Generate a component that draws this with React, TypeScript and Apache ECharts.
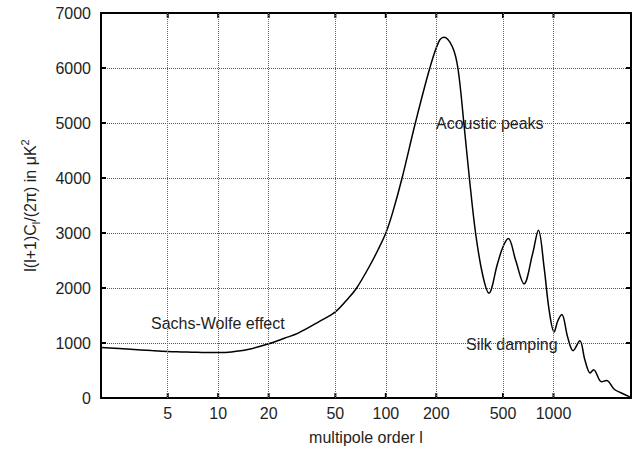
import React, { useEffect, useRef } from "react";
import * as echarts from "echarts";

// multipole order l
const multipoles = [
  2, 3, 4, 5, 6, 7, 8, 10, 12, 15, 20, 25, 30, 40, 50, 60, 67, 80, 90, 100, 110,
  125, 150, 183, 207, 222, 249, 269, 292, 315, 343, 377, 412, 463, 500, 538,
  596, 667, 750, 813, 879, 942, 1009, 1060, 1122, 1213, 1309, 1436, 1538, 1656,
  1734, 1935, 2073, 2302, 2522, 2850,
];
// l(l+1)C_l/(2pi) in microK^2
const power = [
  918, 885, 862, 846, 838, 832, 829, 828, 838, 880, 985, 1090, 1180, 1390,
  1565, 1820, 2000, 2400, 2700, 3000, 3380, 4000, 5000, 6000, 6480, 6560, 6390,
  6000, 5000, 4000, 3000, 2255, 1907, 2435, 2750, 2900, 2495, 2075, 2615, 3050,
  2375, 1596, 1200, 1400, 1520, 1116, 860, 1040, 696, 455, 515, 295, 320, 160,
  95, 20,
];
const xTickValues = [5, 10, 20, 50, 100, 200, 500, 1000];
const yTickValues = [1000, 2000, 3000, 4000, 5000, 6000];
const xMin = 2;
const xMax = 2900;
const yMin = 0;
const yMax = 7000;
const yStep = 1000;

const FONT = "'Liberation Sans', Arial, Helvetica, sans-serif";
const TEXT = "#1e1e1e";
const TICK_PX = 5;

export default function App() {
  const ref = useRef<HTMLDivElement>(null);
  useEffect(() => {
    document.body.style.margin = "0";
    if (!ref.current) return;
    const chart = echarts.init(ref.current, undefined, { renderer: "svg" });
    const axisLineStyle = { color: "#000", width: 2 };
    const labelStyle = { color: TEXT, fontSize: 16, fontFamily: FONT };

    const tickSeries = (
      data: number[][],
      dir: "up" | "down" | "right" | "left"
    ) => ({
      type: "custom",
      coordinateSystem: "cartesian2d",
      xAxisIndex: 0,
      yAxisIndex: 0,
      silent: true,
      data,
      renderItem: (_p: any, api: any) => {
        const p = api.coord([api.value(0), api.value(1)]);
        const dx = dir === "right" ? TICK_PX : dir === "left" ? -TICK_PX : 0;
        const dy = dir === "up" ? -TICK_PX : dir === "down" ? TICK_PX : 0;
        return {
          type: "line",
          shape: { x1: p[0], y1: p[1], x2: p[0] + dx, y2: p[1] + dy },
          style: { stroke: "#000", lineWidth: 2 },
        };
      },
    });

    chart.setOption({
      animation: false,
      backgroundColor: "#fff",
      grid: { left: 101, top: 13, right: 3, bottom: 48, containLabel: false },
      xAxis: [
        {
          type: "log",
          logBase: 10,
          min: xMin,
          max: xMax,
          position: "bottom",
          axisLine: { show: true, onZero: false, lineStyle: axisLineStyle },
          axisTick: { show: false },
          axisLabel: {
            show: true,
            ...labelStyle,
            margin: 7,
            customValues: xTickValues,
            formatter: (v: number) => String(Math.round(v)),
          },
          minorTick: { show: false },
          splitLine: { show: false },
          name: "multipole order l",
          nameLocation: "middle",
          nameGap: 31,
          nameTextStyle: { ...labelStyle },
        },
        {
          type: "log",
          logBase: 10,
          min: xMin,
          max: xMax,
          position: "top",
          axisLine: { show: true, onZero: false, lineStyle: axisLineStyle },
          axisTick: { show: false },
          axisLabel: { show: false },
          minorTick: { show: false },
          splitLine: { show: false },
        },
      ],
      yAxis: [
        {
          type: "value",
          min: yMin,
          max: yMax,
          interval: yStep,
          position: "left",
          axisLine: { show: true, onZero: false, lineStyle: axisLineStyle },
          axisTick: { show: false },
          axisLabel: { show: true, ...labelStyle, margin: 10, formatter: (v: number) => String(v) },
          splitLine: { show: true, lineStyle: { color: "#555", width: 1, type: "dotted" } },
          name: "{a|l(l+1)C}{s|l}{a|/(2π) in μK}{p|2}",
          nameLocation: "middle",
          nameGap: 60,
          nameTextStyle: {
            ...labelStyle,
            rich: {
              a: { fontSize: 16, fontFamily: FONT, color: TEXT, lineHeight: 22, verticalAlign: "middle" },
              s: { fontSize: 11, fontFamily: FONT, color: TEXT, lineHeight: 12, verticalAlign: "bottom" },
              p: { fontSize: 11, fontFamily: FONT, color: TEXT, lineHeight: 12, verticalAlign: "top" },
            },
          },
        },
        {
          type: "value",
          min: yMin,
          max: yMax,
          interval: yStep,
          position: "right",
          axisLine: { show: true, onZero: false, lineStyle: axisLineStyle },
          axisTick: { show: false },
          axisLabel: { show: false },
          splitLine: { show: false },
        },
      ],
      series: [
        tickSeries(xTickValues.map((v) => [v, yMin]), "up"),
        tickSeries(xTickValues.map((v) => [v, yMax]), "down"),
        tickSeries(yTickValues.map((v) => [xMin, v]), "right"),
        tickSeries(yTickValues.map((v) => [xMax, v]), "left"),
        {
          type: "line",
          xAxisIndex: 0,
          yAxisIndex: 0,
          data: multipoles.map((l, i) => [l, power[i]]),
          showSymbol: false,
          smooth: 0.35,
          lineStyle: { color: "#000", width: 1.5 },
          silent: true,
          markLine: {
            silent: true,
            symbol: ["none", "none"],
            label: { show: false },
            lineStyle: { color: "#666", width: 1, type: "dotted" },
            data: xTickValues.map((v) => ({ xAxis: v })),
          },
        },
      ],
    });
    chart.setOption({
      graphic: [
        {
          type: "text",
          left: 151,
          top: 315,
          style: { text: "Sachs-Wolfe effect", font: `16px ${FONT}`, fill: TEXT },
        },
        {
          type: "text",
          left: 436,
          top: 115,
          style: { text: "Acoustic peaks", font: `16px ${FONT}`, fill: TEXT },
        },
        {
          type: "text",
          left: 466,
          top: 336,
          style: { text: "Silk damping", font: `16px ${FONT}`, fill: TEXT },
        },
      ],
    });
    return () => chart.dispose();
  }, []);
  return (
    <div ref={ref} style={{ width: 634, height: 450, position: "absolute", left: 0, top: 0 }} />
  );
}
